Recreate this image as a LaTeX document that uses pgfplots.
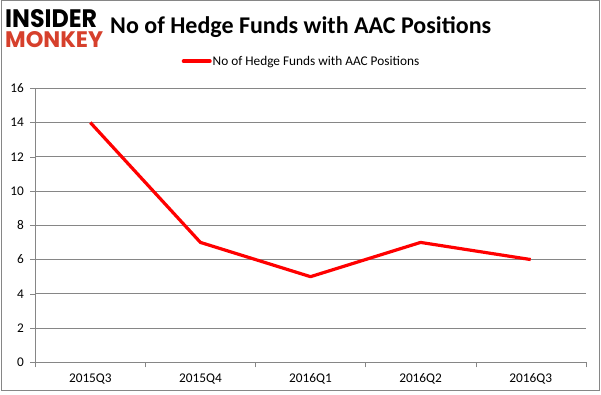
\documentclass[border=0pt]{standalone}
\usepackage{graphicx}
\usepackage{pgfplots}
\pgfplotsset{compat=1.18}
\usepackage{fontspec}
\setmainfont{Carlito}
\newfontfamily\logofont{Poppins}
\definecolor{gridc}{RGB}{134,134,134}
\definecolor{logored}{RGB}{214,64,44}
\begin{document}
\begin{tikzpicture}[x=1pt,y=1pt]
\useasboundingbox (0,0) rectangle (601,395);
\draw[gridc,line width=1pt] (1,4) rectangle (599.5,394.5);
% logo
\node[anchor=south west,inner sep=0] at (5,367) {\resizebox{92pt}{18pt}{\logofont\bfseries\color{black}INSIDER}};
\node[anchor=south west,inner sep=0] at (5,347) {\resizebox{98pt}{16pt}{\logofont\bfseries\color{logored}MONKEY}};
% title
\node[anchor=base,inner sep=0,font=\bfseries\fontsize{24}{24}\selectfont] at (300.7,361.7) {No of Hedge Funds with AAC Positions};
\begin{axis}[
  at={(35.3pt,32.7pt)}, anchor=south west,
  scale only axis, width=550.4pt, height=274pt,
  xmin=0, xmax=5, ymin=0, ymax=16,
  ytick={0,2,...,16},
  xtick={0.5,1.5,2.5,3.5,4.5},
  xticklabels={2015Q3,2015Q4,2016Q1,2016Q2,2016Q3},
  extra x ticks={0,1,2,3,4,5},
  extra x tick labels={},
  extra x tick style={grid=none, xtick style={draw=gridc}},
  axis x line*=bottom, axis y line*=left,
  x axis line style={gridc,-}, y axis line style={gridc,-},
  ymajorgrids, grid style={gridc, line width=0.8pt},
  major tick length=5pt,
  ytick style={draw=gridc},
  xtick style={draw=none},
  tick align=outside,
  ticklabel style={font=\fontsize{13.3}{13.3}\selectfont, text=black},
  /pgf/number format/assume math mode=true,
  xticklabel style={yshift=-3pt},
  yticklabel style={xshift=-3pt},
  legend style={at={(0.5,1.0)}, xshift=-9.5pt, yshift=27pt, anchor=center, draw=none, fill=none, font=\fontsize{13.3}{13.3}\selectfont, legend columns=1, inner sep=0pt, nodes={inner sep=1pt}},
  legend cell align=left,
  legend image code/.code={\draw[#1, line cap=round, line width=4pt] (0pt,0pt) -- (26pt,0pt);},
]
\addplot[red, line width=3.2pt, mark=none, line join=round] coordinates {(0.5,14) (1.5,7) (2.5,5) (3.5,7) (4.5,6)};
\addlegendentry{No of Hedge Funds with AAC Positions}
\end{axis}
\end{tikzpicture}
\end{document}
